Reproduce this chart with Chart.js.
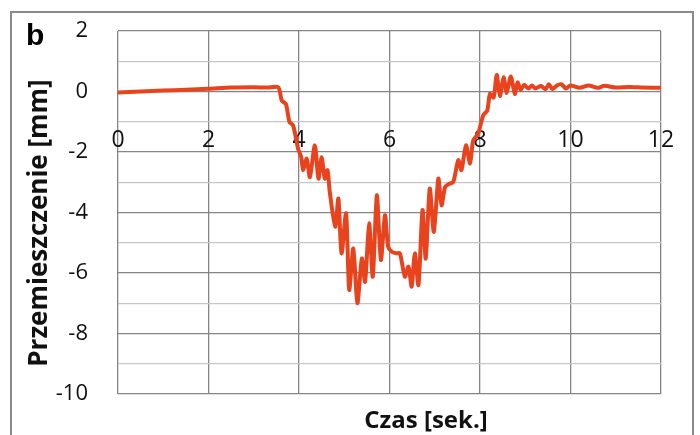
<!DOCTYPE html>
<html>
<head>
<meta charset="utf-8">
<script src="https://cdn.jsdelivr.net/npm/chart.js@4/dist/chart.umd.min.js"></script>
<style>
  body { margin: 0; background: #fff; }
  #wrap { position: relative; width: 700px; height: 435px; overflow: hidden; }
  #frame { position: absolute; left: 10px; top: 11px; width: 680px; height: 440px; border: 2px solid #8a8a8a; }
  canvas { position: absolute; left: 0; top: 0; }
</style>
</head>
<body>
<div id="wrap">
  <div id="frame"></div>
  <canvas id="chart" width="700" height="435"></canvas>
</div>
<script>
const timeSec = [0, 0.5, 1.0, 1.5, 2.0, 2.5, 3.0, 3.3, 3.54, 3.62, 3.71, 3.79, 3.87, 3.98,
  4.05, 4.09, 4.17, 4.24, 4.35, 4.43, 4.50, 4.57, 4.63, 4.68, 4.80, 4.87, 4.94, 5.04, 5.11,
  5.20, 5.29, 5.39, 5.46, 5.55, 5.63, 5.72, 5.81, 5.90, 5.97, 6.05, 6.15, 6.23, 6.34, 6.42,
  6.49, 6.56, 6.64, 6.73, 6.80, 6.89, 6.98, 7.08, 7.15, 7.23, 7.32, 7.41, 7.52, 7.59, 7.69,
  7.78, 7.85, 7.96, 8.07, 8.16, 8.22, 8.30, 8.37, 8.44, 8.52, 8.59, 8.68, 8.77, 8.83, 8.90,
  8.97, 9.07, 9.15, 9.22, 9.35, 9.45, 9.52, 9.60, 9.70, 9.80, 9.90, 10.0, 10.2, 10.4, 10.6,
  10.75, 11.0, 11.3, 11.6, 12.0];
const displacementMm = [-0.03, 0.0, 0.03, 0.06, 0.09, 0.13, 0.14, 0.13, 0.14, -0.30, -0.41, -1.01, -1.12, -1.89,
  -2.17, -2.6, -2.22, -2.83, -1.78, -2.88, -2.17, -2.88, -2.6, -3.32, -4.47, -3.54, -5.35, -4.03, -6.56,
  -5.19, -7.0, -5.52, -6.29, -4.36, -6.12, -3.43, -5.57, -4.09, -5.13, -5.30, -5.35, -5.35, -6.12, -5.79,
  -6.45, -5.35, -6.40, -3.92, -5.52, -3.21, -4.64, -2.88, -3.76, -3.15, -3.05, -2.99, -2.27, -2.6, -1.78,
  -2.38, -1.62, -1.39, -0.79, -0.63, -0.08, -0.2, 0.55, -0.15, 0.47, -0.05, 0.5, -0.08, 0.3, 0.05,
  0.22, 0.1, 0.2, 0.1, 0.18, 0.08, 0.24, 0.08, 0.2, 0.24, 0.1, 0.2, 0.12, 0.2, 0.12,
  0.19, 0.13, 0.15, 0.13, 0.12];

const xMin = 0, xMax = 12, xStep = 2;
const yMin = -10, yMax = 2, yStep = 1;

const font = "'Open Sans', 'DejaVu Sans', sans-serif";

// panel letter and both axis titles, placed where the original figure has them
const extraText = {
  id: 'extraText',
  afterDraw(chart) {
    const ctx = chart.ctx;
    ctx.save();
    ctx.fillStyle = '#000';
    ctx.textAlign = 'left';
    ctx.textBaseline = 'alphabetic';
    ctx.font = "bold 30px 'Liberation Sans', Arial, sans-serif";
    ctx.fillText('b', 26, 45);
    ctx.fillStyle = '#111';
    ctx.textAlign = 'center';
    ctx.font = "bold 24px " + font;
    ctx.fillText('Czas [sek.]', 426, 428);
    ctx.translate(40, 223);
    ctx.rotate(-Math.PI / 2);
    ctx.textBaseline = 'middle';
    ctx.font = "bold 26px " + font;
    ctx.fillText('Przemieszczenie [mm]', 0, 0);
    ctx.restore();
  }
};

new Chart(document.getElementById('chart'), {
  type: 'line',
  data: {
    datasets: [{
      data: timeSec.map((t, i) => ({ x: t, y: displacementMm[i] })),
      borderColor: '#e8431d',
      borderWidth: 4,
      borderJoinStyle: 'round',
      borderCapStyle: 'round',
      pointRadius: 0,
      tension: 0.25
    }]
  },
  options: {
    responsive: false,
    animation: false,
    layout: { padding: { left: 25, top: 31, right: 39, bottom: 41 } },
    plugins: { legend: { display: false }, tooltip: { enabled: false } },
    scales: {
      x: {
        type: 'linear',
        position: { y: 0 },
        min: xMin, max: xMax,
        border: { display: false },
        grid: { color: '#858585', lineWidth: 1.3, drawTicks: false },
        ticks: { stepSize: xStep, padding: 35, color: '#111', font: { family: font, size: 23 } },
        afterFit(scale) { scale.height = 0; scale.paddingLeft = 0; scale.paddingRight = 0; }
      },
      y: {
        min: yMin, max: yMax,
        border: { display: false },
        grid: {
          drawTicks: false,
          lineWidth: 1.3,
          color: c => (c.tick && Math.abs(c.tick.value) % 2 === 1) ? '#c6c6c6' : '#858585'
        },
        ticks: {
          stepSize: yStep, padding: 30, color: '#111',
          font: { family: font, size: 22 },
          callback: v => (Math.abs(v) % 2 === 0 ? String(v) : '')
        },
        afterFit(scale) { scale.width = 93; scale.paddingTop = 0; scale.paddingBottom = 0; }
      }
    }
  },
  plugins: [extraText]
});
</script>
</body>
</html>
